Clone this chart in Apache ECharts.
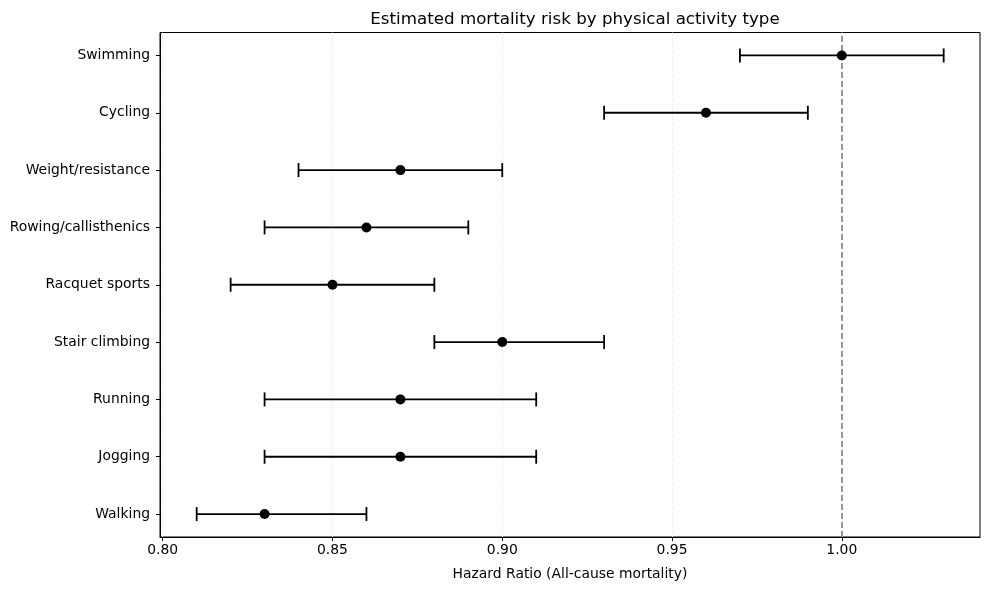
<!DOCTYPE html>
<html>
<head>
<meta charset="utf-8">
<script src="https://cdn.jsdelivr.net/npm/echarts@6/dist/echarts.min.js"></script>
<style>html,body{margin:0;padding:0;background:#fff;}#c{width:989px;height:590px;}</style>
</head>
<body>
<div id="c"></div>
<script>
const categories = ["Walking","Jogging","Running","Stair climbing","Racquet sports","Rowing/callisthenics","Weight/resistance","Cycling","Swimming"];
const hr    = [0.83, 0.87, 0.87, 0.90, 0.85, 0.86, 0.87, 0.96, 1.00];
const lower = [0.81, 0.83, 0.83, 0.88, 0.82, 0.83, 0.84, 0.93, 0.97];
const upper = [0.86, 0.91, 0.91, 0.93, 0.88, 0.89, 0.90, 0.99, 1.03];
const xTicks = [0.80, 0.85, 0.90, 0.95, 1.00];
const refLine = 1.0;

const font = "DejaVu Sans";
const chart = echarts.init(document.getElementById('c'), null, {renderer:'canvas'});

const errData = categories.map((c,i)=>[lower[i], upper[i], i]);
const ptData = categories.map((c,i)=>[hr[i], i]);
const yIdx = categories.map((c,i)=>i);

chart.setOption({
  animation:false,
  backgroundColor:'#fff',
  title:{text:'Estimated mortality risk by physical activity type', left:570, top:6, textAlign:'center',
    textStyle:{fontFamily:font, fontSize:16.7, fontWeight:'normal', color:'#000'}},
  grid:{left:160, right:9, top:32.5, bottom:53, show:true, borderColor:'#000', borderWidth:1, backgroundColor:'transparent'},
  xAxis:{type:'value', min:0.7992, max:1.0407,
    name:'Hazard Ratio (All-cause mortality)', nameLocation:'middle', nameGap:30,
    nameTextStyle:{fontFamily:font, fontSize:13.9, color:'#000'},
    axisLine:{show:true, onZero:false, lineStyle:{color:'#000', width:1}},
    axisTick:{show:true, length:4, lineStyle:{color:'#000'}, customValues:xTicks},
    axisLabel:{fontFamily:font, fontSize:13.9, color:'#000', margin:6, customValues:xTicks,
      formatter:v=>v.toFixed(2)},
    splitLine:{show:false}
  },
  yAxis:{type:'value', min:-0.4, max:8.4,
    axisLine:{show:true, onZero:false, lineStyle:{color:'#000', width:1}},
    axisTick:{show:true, length:4, lineStyle:{color:'#000'}, customValues:yIdx},
    axisLabel:{fontFamily:font, fontSize:13.9, color:'#000', margin:10, customValues:yIdx,
      formatter:v=>categories[Math.round(v)]},
    splitLine:{show:false}
  },
  series:[
    {type:'line', data:[], silent:true, z:1,
      markLine:{silent:true, symbol:'none', z:1, label:{show:false},
        lineStyle:{color:'#d8d8d8', type:[1,2], width:0.8},
        data:xTicks.map(v=>({xAxis:v}))}},
    {type:'line', data:[], silent:true, z:2,
      markLine:{silent:true, symbol:'none', z:2, label:{show:false},
        lineStyle:{color:'#808080', type:[6,3], width:1.6},
        data:[{xAxis:refLine}]}},
    {type:'custom', data:errData, silent:true,
      renderItem:(params, api)=>{
        const a = api.coord([api.value(0), api.value(2)]);
        const b = api.coord([api.value(1), api.value(2)]);
        const h = 7;
        const st = {stroke:'#000', lineWidth:1.8};
        return {type:'group', children:[
          {type:'line', shape:{x1:a[0],y1:a[1],x2:b[0],y2:b[1]}, style:st},
          {type:'line', shape:{x1:a[0],y1:a[1]-h,x2:a[0],y2:a[1]+h}, style:st},
          {type:'line', shape:{x1:b[0],y1:b[1]-h,x2:b[0],y2:b[1]+h}, style:st}
        ]};
      }, z:3},
    {type:'scatter', data:ptData, symbol:'circle', symbolSize:10, itemStyle:{color:'#000', opacity:1}, z:4, silent:true}
  ]
});
</script>
</body>
</html>
